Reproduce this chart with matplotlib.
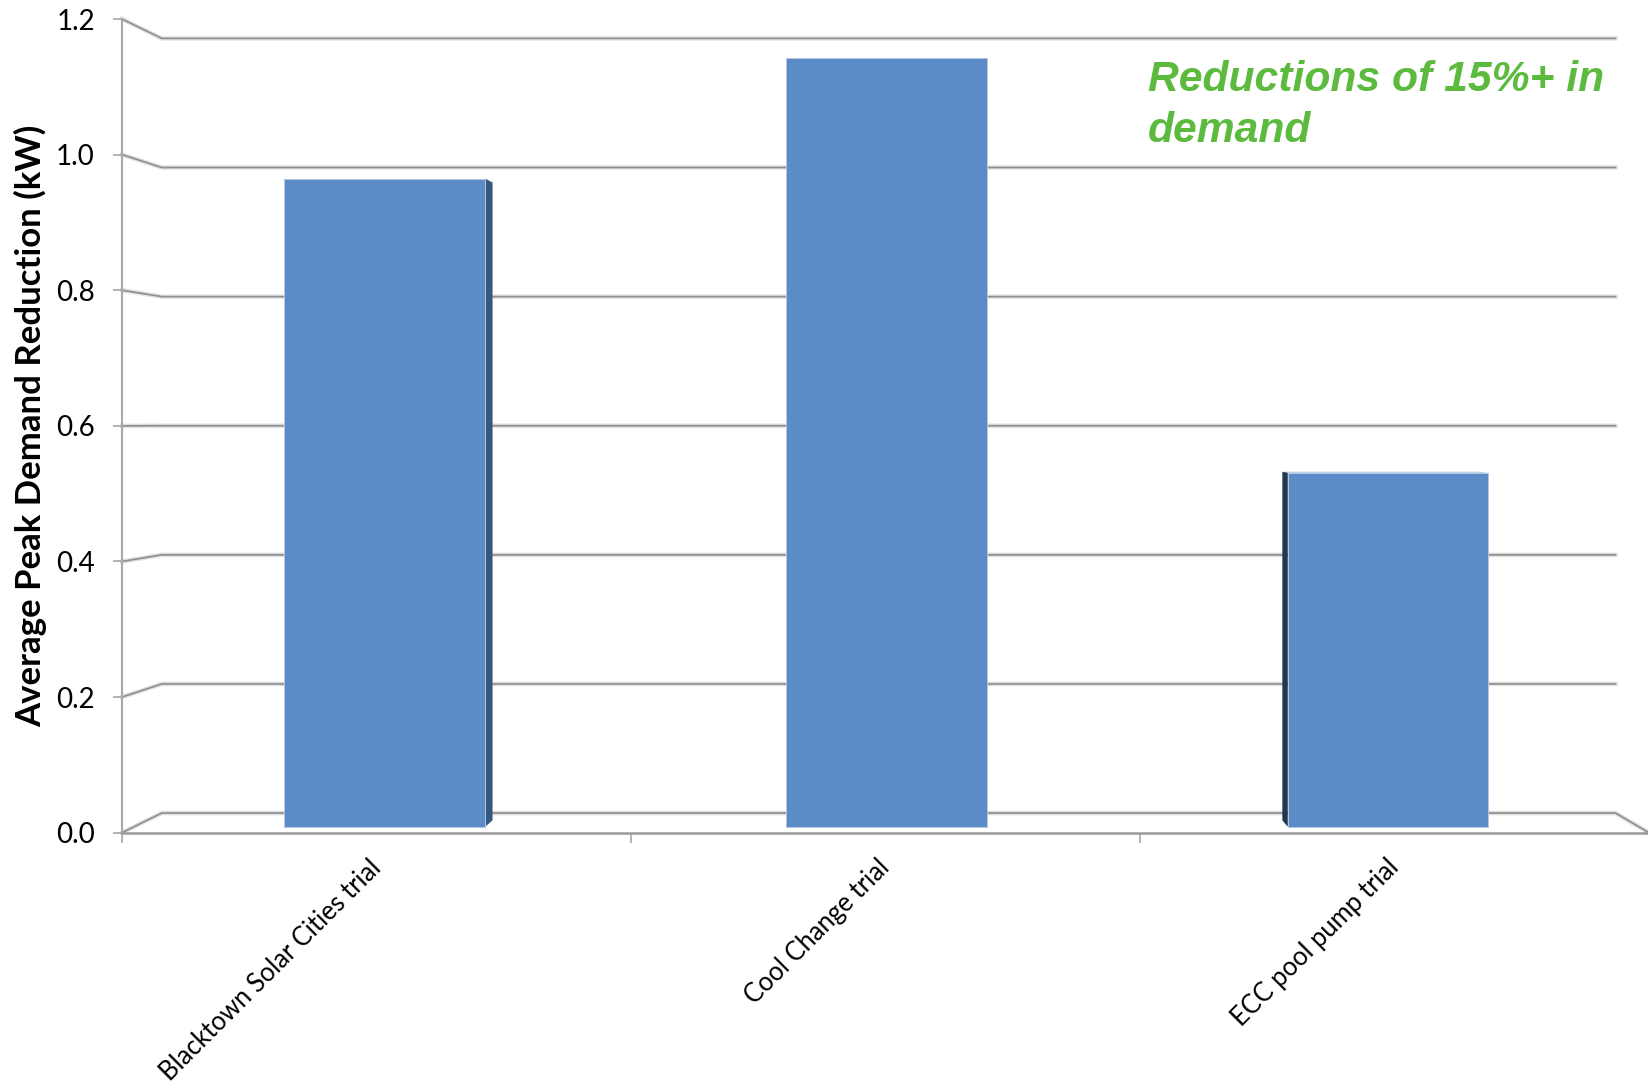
import matplotlib.pyplot as plt
import matplotlib.transforms as mtransforms
from matplotlib.patches import Polygon

categories = ["Blacktown Solar Cities trial", "Cool Change trial", "ECC pool pump trial"]
peak_reduction_kw = [0.97, 1.15, 0.53]
y_ticks = [0.0, 0.2, 0.4, 0.6, 0.8, 1.0, 1.2]

# pseudo 3D box: everything shrinks towards a vanishing point as it goes back
vanish = (1.627, 0.604)      # in front-plane data coords
depth_shrink = 0.048         # scale lost between front plane (z=0) and back wall (z=1)
bar_depth = (0.30, 0.63)     # front / back face of the columns
bar_width = 0.4

front_col = "#5b8cc8"
right_col = "#36587f"
left_col = "#21364f"
top_col = "#8fb0db"
grid_col = "#8e8e8e"


def proj(x, y, z):
    s = 1 - depth_shrink * z
    return (vanish[0] + s * (x - vanish[0]), vanish[1] + s * (y - vanish[1]))


fig = plt.figure(figsize=(16.49, 10.84), dpi=100)
ax = fig.add_axes([122 / 1649, 251.3 / 1084, 1527 / 1649, 813.7 / 1084])
ax.set_xlim(0, 3)
ax.set_ylim(0, 1.2)

# back wall gridlines + side wall diagonals (floor also gets the right diagonal)
for v in y_ticks:
    pts = [(0, v), proj(0, v, 1), proj(3, v, 1)]
    if v == 0:
        pts.append((3, 0))
    xs, ys = zip(*pts)
    ax.plot(xs, ys, color="#e0e0e0", lw=3.2, zorder=1, clip_on=False)
    ax.plot(xs, ys, color=grid_col, lw=1.2, zorder=2, clip_on=False)

# columns
zf, zb = bar_depth
for i, v in enumerate(peak_reduction_kw):
    x0 = i + 0.5 - bar_width / 2
    x1 = i + 0.5 + bar_width / 2
    if x1 < vanish[0]:
        side = [proj(x1, 0, zf), proj(x1, v, zf), proj(x1, v, zb), proj(x1, 0, zb)]
        ax.add_patch(Polygon(side, closed=True, fc=right_col, ec="none", zorder=3))
    if x0 > vanish[0]:
        side = [proj(x0, 0, zf), proj(x0, v, zf), proj(x0, v, zb), proj(x0, 0, zb)]
        ax.add_patch(Polygon(side, closed=True, fc=left_col, ec="none", zorder=3))
    if v < vanish[1]:
        top = [proj(x0, v, zf), proj(x1, v, zf), proj(x1, v, zb), proj(x0, v, zb)]
        ax.add_patch(Polygon(top, closed=True, fc=top_col, ec="none", zorder=3))
    front = [proj(x0, 0, zf), proj(x1, 0, zf), proj(x1, v, zf), proj(x0, v, zf)]
    ax.add_patch(Polygon(front, closed=True, fc=front_col, ec="#b4c8e4", lw=0.7, zorder=4))

# axes
for side in ["top", "right"]:
    ax.spines[side].set_visible(False)
ax.spines["left"].set_color("#a8a8a8")
ax.spines["left"].set_linewidth(1.5)
ax.spines["bottom"].set_color("#9a9a9a")
ax.spines["bottom"].set_linewidth(1.8)
ax.spines["left"].set_zorder(5)
ax.spines["bottom"].set_zorder(5)

ax.set_yticks(y_ticks)
ax.set_yticklabels([f"{t:.1f}" for t in y_ticks])
ax.tick_params(axis="y", length=6.5, width=1.2, color="#a8a8a8", pad=13,
               labelsize=20, labelcolor="black")
for lbl in ax.get_yticklabels():
    lbl.set_fontfamily("Lato")

ax.set_xticks([0, 1, 2, 3])
ax.set_xticklabels([])
ax.set_xticks([0.5, 1.5, 2.5], minor=True)
ax.set_xticklabels(categories, minor=True, rotation=45, ha="right", va="top",
                   rotation_mode="anchor", fontsize=18.4, fontfamily="Lato")
ax.tick_params(axis="x", which="major", length=7, width=1.2, color="#a8a8a8")
ax.tick_params(axis="x", which="minor", length=0, pad=16)
shift = mtransforms.ScaledTranslation(-0.085, 0, fig.dpi_scale_trans)
for lbl in ax.get_xticklabels(minor=True):
    lbl.set_transform(lbl.get_transform() + shift)

ax.set_ylabel("Average Peak Demand Reduction (kW)", fontsize=25, fontweight="bold",
              fontfamily="Lato")
ax.yaxis.set_label_coords(-0.049, 0.5)

ax.text(2.016, 1.139, "Reductions of 15%+ in\ndemand", color="#5cbb3f",
        fontsize=30.7, fontweight="bold", fontstyle="italic",
        fontfamily="Liberation Sans", va="top", ha="left", linespacing=1.34, zorder=6)

ax.patch.set_visible(False)
fig.savefig("out.png", dpi=100)
